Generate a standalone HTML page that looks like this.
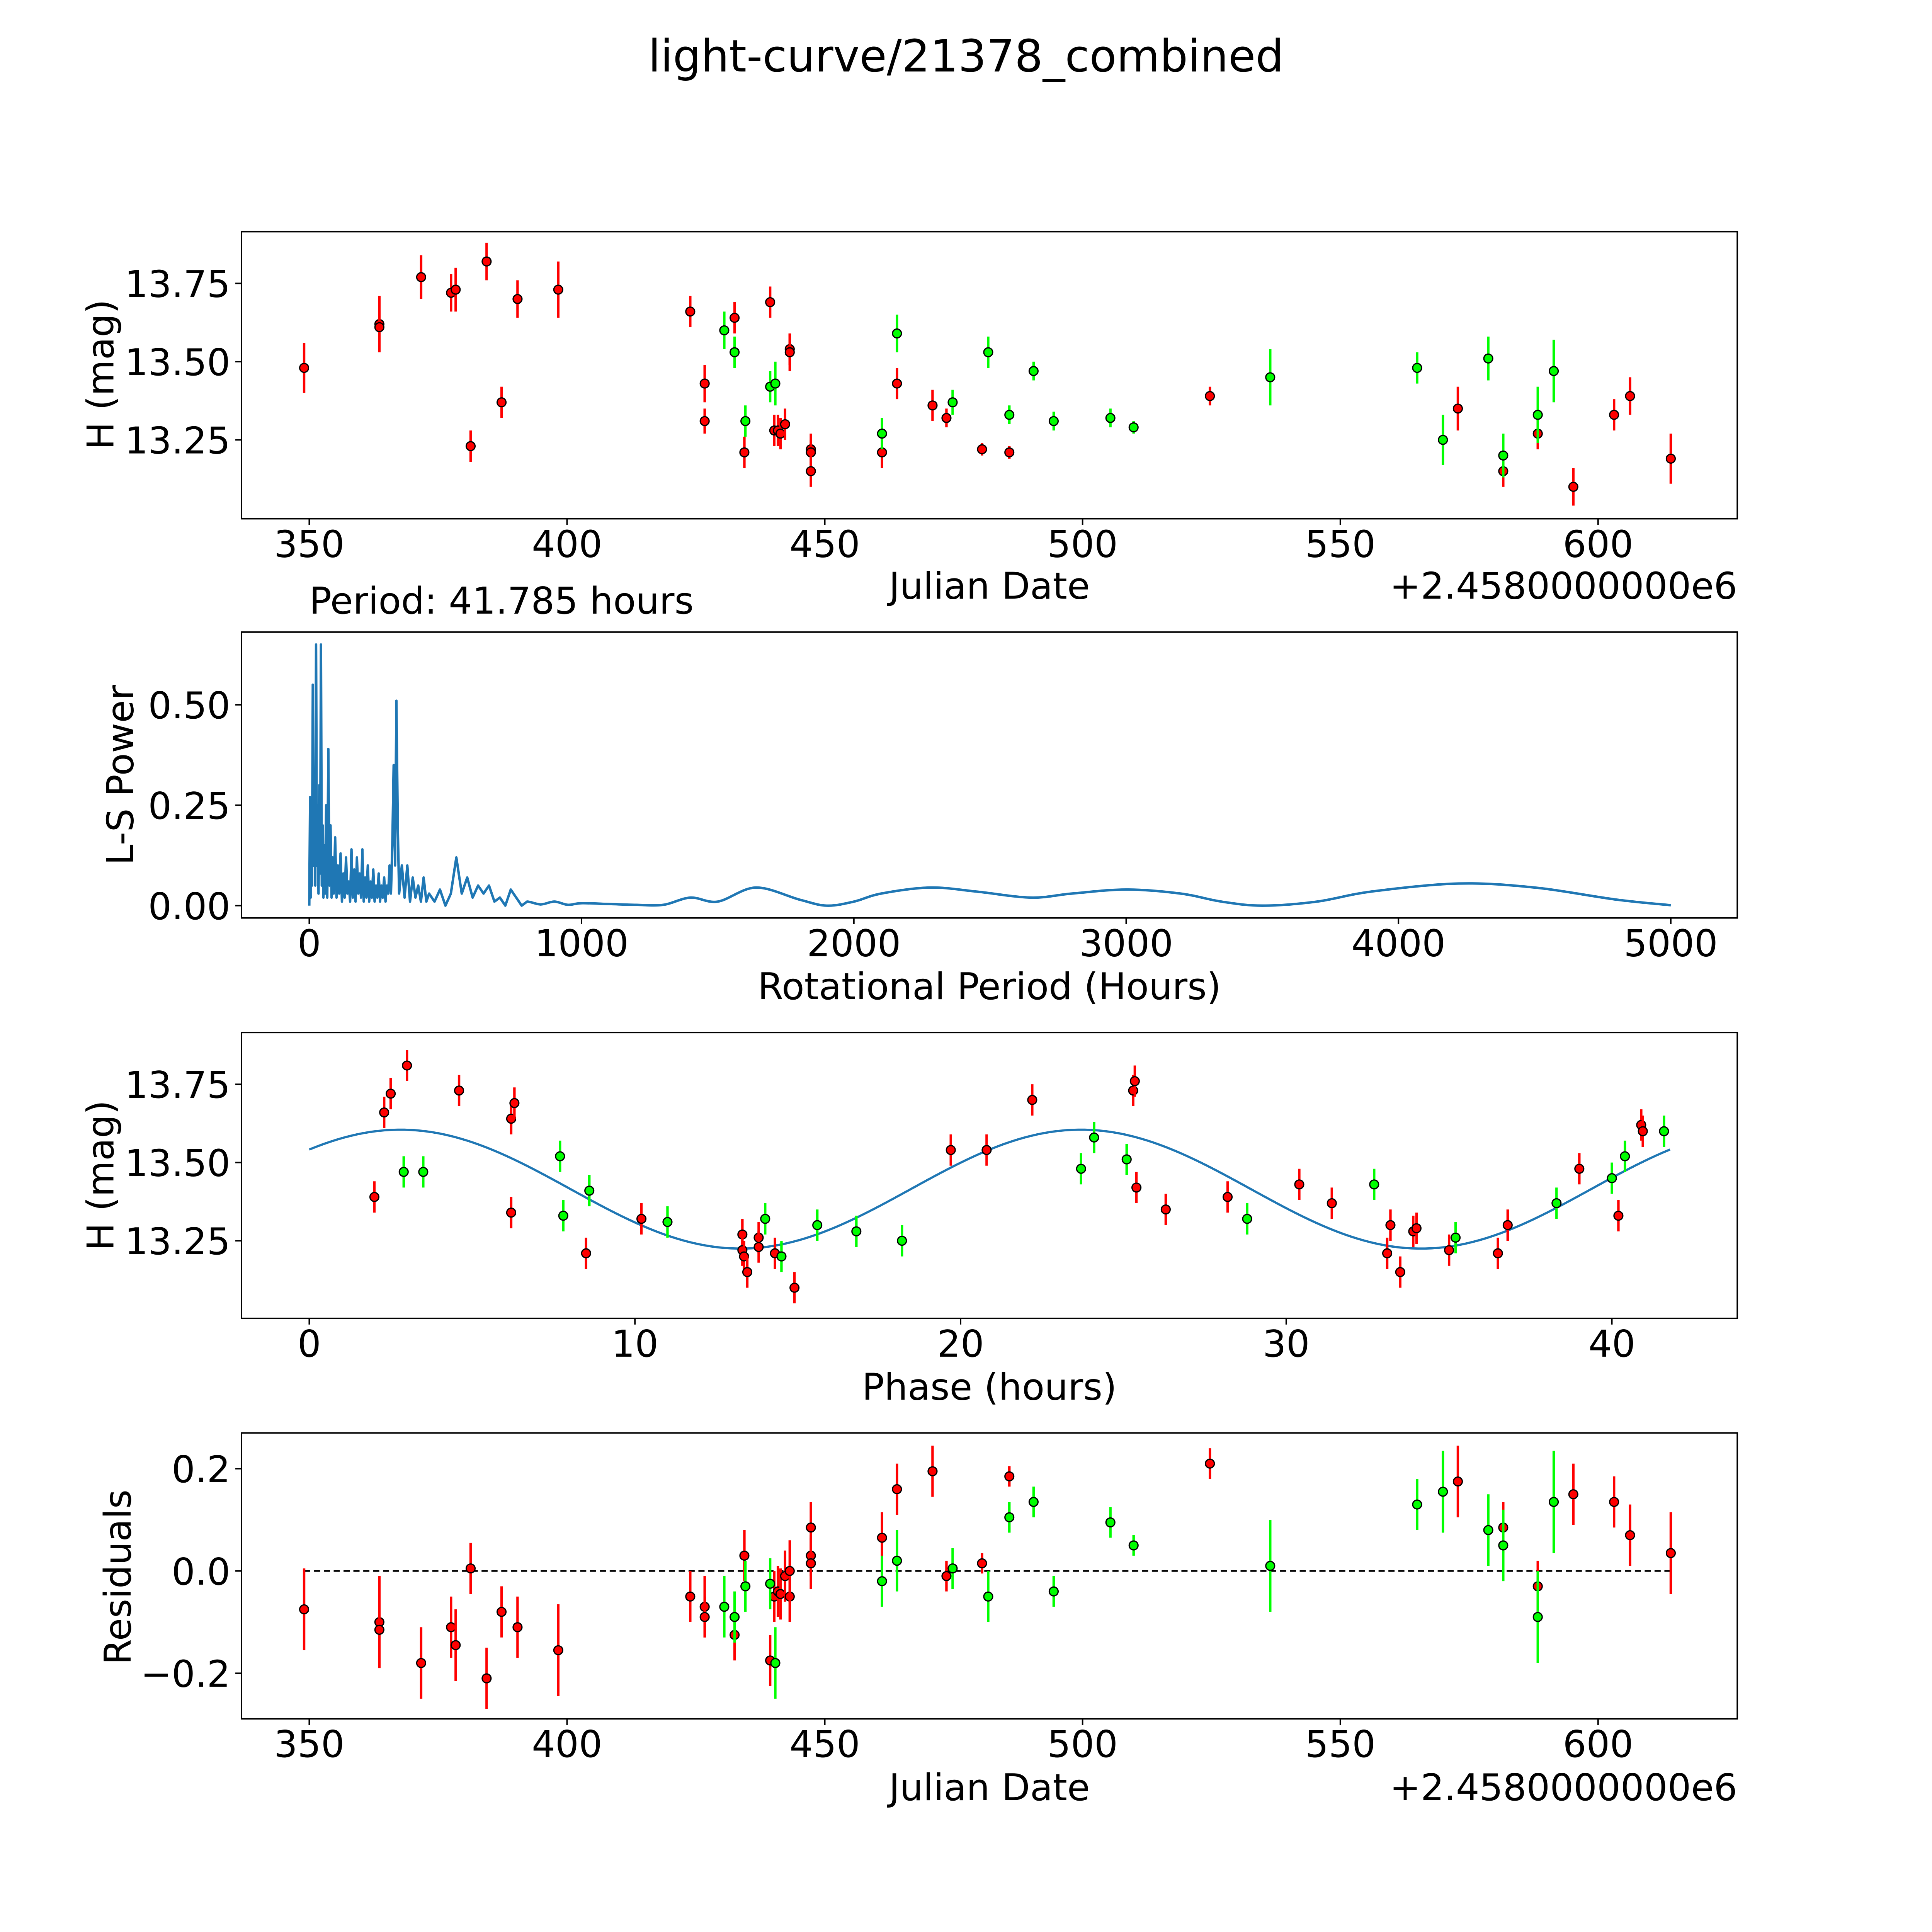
<!DOCTYPE html>
<html><head><meta charset="utf-8"><style>
html,body{margin:0;padding:0;background:#fff;overflow:hidden;width:100%;height:100%}
svg{display:block;width:100vw;height:100vh}
text{font-family:"DejaVu Sans","Liberation Sans",sans-serif;fill:#000}
</style></head><body>
<svg id="fig" viewBox="0 0 1568 1568" preserveAspectRatio="none" xmlns="http://www.w3.org/2000/svg">
<rect width="1568" height="1568" fill="#fff"/>
<text x="784" y="58" font-size="36" text-anchor="middle">light-curve/21378_combined</text>
<g id="g1"></g>
<g id="g2"></g>
<g id="g3"></g>
<g id="g4"></g>
</svg>
<script>
// ---- data ----
const redDates=[349,363.6,363.6,371.7,377.5,378.4,381.3,384.4,387.3,390.4,398.3,423.9,426.7,426.7,432.5,434.4,439.4,440.2,440.9,441.4,442.3,443.2,443.2,447.3,447.3,447.3,461.1,464,470.9,473.6,480.5,485.8,524.7,572.8,581.6,588.3,595.2,603.1,606.2,614.1];
const redMags=[13.48,13.62,13.61,13.77,13.72,13.73,13.23,13.82,13.37,13.70,13.73,13.66,13.43,13.31,13.64,13.21,13.69,13.28,13.28,13.27,13.30,13.54,13.53,13.22,13.21,13.15,13.21,13.43,13.36,13.32,13.22,13.21,13.39,13.35,13.15,13.27,13.10,13.33,13.39,13.19];
const redErrs=[0.08,0.09,0.05,0.07,0.06,0.07,0.05,0.06,0.05,0.06,0.09,0.05,0.06,0.04,0.05,0.05,0.05,0.05,0.05,0.05,0.05,0.05,0.06,0.05,0.04,0.05,0.05,0.05,0.05,0.03,0.02,0.02,0.03,0.07,0.05,0.05,0.06,0.05,0.06,0.08];
const redResid=[-0.075,-0.10,-0.115,-0.18,-0.11,-0.145,0.005,-0.21,-0.08,-0.11,-0.155,-0.05,-0.07,-0.09,-0.125,0.03,-0.175,-0.05,-0.04,-0.045,-0.01,-0.05,0.0,0.085,0.03,0.015,0.065,0.16,0.195,-0.01,0.015,0.185,0.21,0.175,0.085,-0.03,0.15,0.135,0.07,0.035];
const greenDates=[430.5,432.5,434.6,439.4,440.4,461.1,464,474.8,481.7,485.8,490.5,494.4,505.4,509.9,536.4,564.9,569.9,578.7,581.6,588.3,591.4];
const greenMags=[13.60,13.53,13.31,13.42,13.43,13.27,13.59,13.37,13.53,13.33,13.47,13.31,13.32,13.29,13.45,13.48,13.25,13.51,13.20,13.33,13.47];
const greenErrs=[0.06,0.05,0.05,0.05,0.07,0.05,0.06,0.04,0.05,0.03,0.03,0.03,0.03,0.02,0.09,0.05,0.08,0.07,0.07,0.09,0.10];
const greenResid=[-0.07,-0.09,-0.03,-0.025,-0.18,-0.02,0.02,0.005,-0.05,0.105,0.135,-0.04,0.095,0.05,0.01,0.13,0.155,0.08,0.05,-0.09,0.135];
const redPhase=[2.0,2.3,2.5,3.0,4.6,6.2,6.2,6.3,8.5,10.2,13.3,13.3,13.35,13.45,13.8,13.8,14.3,14.9,19.7,20.8,22.2,25.3,25.35,25.4,26.3,28.2,30.4,31.4,33.1,33.2,33.5,33.9,34.0,35.0,36.5,36.8,39.0,40.2,40.9,40.95];
const redPhaseMag=[13.39,13.66,13.72,13.81,13.73,13.34,13.64,13.69,13.21,13.32,13.27,13.22,13.20,13.15,13.26,13.23,13.21,13.10,13.54,13.54,13.70,13.73,13.76,13.42,13.35,13.39,13.43,13.37,13.21,13.30,13.15,13.28,13.29,13.22,13.21,13.30,13.48,13.33,13.62,13.60];
const greenPhase=[2.9,3.5,7.7,7.8,8.6,11.0,14.0,14.5,15.6,16.8,18.2,23.7,24.1,25.1,28.8,32.7,35.2,38.3,40.0,40.4,41.6];
const greenPhaseMag=[13.47,13.47,13.52,13.33,13.41,13.31,13.32,13.20,13.30,13.28,13.25,13.48,13.58,13.51,13.32,13.43,13.26,13.37,13.45,13.52,13.60];
const lsPeriods=[0,3,5,8,10,13,16,19,22,25,28,31,34,37,40,43,46,49,52,55,58,62,66,70,74,78,82,86,90,95,100,105,110,115,120,125,130,135,140,145,150,155,160,165,170,175,180,185,190,195,200,205,210,215,220,225,230,235,240,245,250,255,260,265,270,275,280,285,290,295,300,305,310,315,320,325,330,340,350,360,370,380,390,400,410,420,430,440,460,480,500,520,540,560,580,600,620,640,660,680,700,720,740,760,780,800,850,900,950,1000,1100,1200,1300,1400,1500,1640,1800,1900,2000,2100,2280,2450,2650,2800,3000,3200,3350,3500,3700,3900,4220,4500,4800,5000];
const lsPower=[0,0.27,0.02,0.2,0.05,0.55,0.1,0.3,0.05,0.65,0.1,0.25,0.03,0.3,0.08,0.65,0.05,0.2,0.02,0.15,0.03,0.25,0.02,0.39,0.05,0.2,0.02,0.12,0.03,0.17,0.02,0.1,0.03,0.13,0.01,0.08,0.02,0.12,0.03,0.06,0.01,0.14,0.02,0.09,0.01,0.12,0.03,0.08,0.02,0.14,0.01,0.07,0.02,0.1,0.01,0.06,0.02,0.09,0.01,0.05,0.02,0.08,0.01,0.05,0.02,0.07,0.01,0.05,0.03,0.1,0.03,0.15,0.35,0.1,0.51,0.2,0.03,0.1,0.02,0.1,0.01,0.07,0.02,0.05,0.01,0.07,0.01,0.03,0.01,0.04,0.0,0.03,0.12,0.03,0.07,0.02,0.05,0.03,0.05,0.01,0.02,0.0,0.04,0.02,0.0,0.01,0.003,0.01,0.002,0.006,0.004,0.002,0.002,0.02,0.01,0.045,0.015,0.0,0.01,0.03,0.045,0.035,0.02,0.03,0.04,0.03,0.01,0.0,0.01,0.035,0.055,0.045,0.015,0.001];
const jdTicks=[350,400,450,500,550,600];
const magTicks=[13.25,13.50,13.75];
const lsXTicks=[0,1000,2000,3000,4000,5000];
const lsYTicks=[0,0.25,0.5];
const phaseTicks=[0,10,20,30,40];
const residTicks=[-0.2,0,0.2];
const period=41.785, modelMean=13.415, modelAmp=0.19, modelPeak=2.8;

const NS="http://www.w3.org/2000/svg";
const FS=30;
function mk(parent,tag,attrs,txt){const e=document.createElementNS(NS,tag);for(const k in attrs)e.setAttribute(k,attrs[k]);if(txt!==undefined)e.textContent=txt;parent.appendChild(e);return e;}
const L=196,R=1410;
function frame(g,top,bot){const r=mk(g,'rect',{x:L,y:top,width:R-L,height:bot-top,fill:'none',stroke:'#000','stroke-width':1.2});

}
function xticks(g,ticks,sx,bot,fmt,name){ticks.forEach(t=>{const x=sx(t);mk(g,'line',{x1:x,x2:x,y1:bot,y2:bot+5,stroke:'#000','stroke-width':1.2});
const tx=mk(g,'text',{x:x,y:bot+31,'font-size':FS,'text-anchor':'middle'},fmt(t));

});}
function yticks(g,ticks,sy,fmt,name){ticks.forEach(t=>{const y=sy(t);mk(g,'line',{x1:L-5,x2:L,y1:y,y2:y,stroke:'#000','stroke-width':1.2});
const tx=mk(g,'text',{x:L-9,y:y+11,'font-size':FS,'text-anchor':'end'},fmt(t));

});}
function ylabel(g,txt,x,cy,name){const t=mk(g,'text',{x:x,y:cy,'font-size':FS,'text-anchor':'middle',transform:`rotate(-90 ${x} ${cy})`},txt);

}
function xlabel(g,txt,cx,y,name){const t=mk(g,'text',{x:cx,y:y,'font-size':FS,'text-anchor':'middle'},txt);

}
function pts(g,xs,ys,es,sx,sy,col,name){xs.forEach((v,i)=>{const x=sx(v),y=sy(ys[i]),e=es[i];
const ln=mk(g,'line',{x1:x,x2:x,y1:sy(ys[i]+e),y2:sy(ys[i]-e),stroke:col,'stroke-width':2});


const c=mk(g,'circle',{cx:x,cy:y,r:3.6,fill:col,stroke:'#000','stroke-width':1});

});}
const f2=t=>t.toFixed(2), f0=t=>String(t), f1=t=>t.toFixed(1).replace('-','\u2212');
const RED='#ff0000', GRN='#00ff00';
const sxJD=v=>251+(v-350)*4.184;

// Panel 1
{const g=document.getElementById('g1');const top=188,bot=421;const sy=v=>230-(v-13.75)*254;
frame(g,top,bot);xticks(g,jdTicks,sxJD,bot,f0,'x-tick-label');yticks(g,magTicks,sy,f2,'y-tick-label');
pts(g,redDates,redMags,redErrs,sxJD,sy,RED,'red-filter');pts(g,greenDates,greenMags,greenErrs,sxJD,sy,GRN,'green-filter');
xlabel(g,'Julian Date',803,486,'x-axis-title');ylabel(g,'H (mag)',92,304,'y-axis-title');
const o=mk(g,'text',{x:R,y:486,'font-size':FS,'text-anchor':'end'},'+2.4580000000e6');

}

// Panel 2
{const g=document.getElementById('g2');const top=513,bot=745;const sx=v=>251+v*0.221, sy=v=>735-v*326;
frame(g,top,bot);xticks(g,lsXTicks,sx,bot,f0,'x-tick-label');yticks(g,lsYTicks,sy,f2,'y-tick-label');
const P=lsPeriods.map((p,i)=>[sx(p),sy(lsPower[i])]);
let d='M'+P[0][0].toFixed(2)+' '+P[0][1].toFixed(2);
for(let i=1;i<P.length;i++){
  if(lsPeriods[i]<=800){d+=' L'+P[i][0].toFixed(2)+' '+P[i][1].toFixed(2);}
  else{const p0=P[i-2]||P[i-1],p1=P[i-1],p2=P[i],p3=P[i+1]||P[i];
    const c1=[p1[0]+(p2[0]-p0[0])/6,p1[1]+(p2[1]-p0[1])/6],c2=[p2[0]-(p3[0]-p1[0])/6,p2[1]-(p3[1]-p1[1])/6];
    d+=' C'+c1[0].toFixed(2)+' '+Math.min(c1[1],735.5).toFixed(2)+' '+c2[0].toFixed(2)+' '+Math.min(c2[1],735.5).toFixed(2)+' '+p2[0].toFixed(2)+' '+p2[1].toFixed(2);}
}
const p=mk(g,'path',{d:d,fill:'none',stroke:'#1f77b4','stroke-width':2,'stroke-linejoin':'round'});


xlabel(g,'Rotational Period (Hours)',803,811,'x-axis-title');ylabel(g,'L-S Power',108,629,'y-axis-title');
const t=mk(g,'text',{x:251,y:498,'font-size':FS},'Period: 41.785 hours');

}

// Panel 3
{const g=document.getElementById('g3');const top=838,bot=1070;const sx=v=>251+v*26.43, sy=v=>880-(v-13.75)*254;
frame(g,top,bot);xticks(g,phaseTicks,sx,bot,f0,'x-tick-label');yticks(g,magTicks,sy,f2,'y-tick-label');
let d='';for(let i=0;i<=200;i++){const ph=period*i/200;const m=modelMean+modelAmp*Math.cos(2*Math.PI*(ph-modelPeak)/(period/2));d+=(i?'L':'M')+sx(ph).toFixed(2)+' '+sy(m).toFixed(2)+' ';}
const p=mk(g,'path',{d:d,fill:'none',stroke:'#1f77b4','stroke-width':1.8});


const pe=redPhase.map(()=>0.05), ge=greenPhase.map(()=>0.05);
pts(g,redPhase,redPhaseMag,pe,sx,sy,RED,'red-phase');pts(g,greenPhase,greenPhaseMag,ge,sx,sy,GRN,'green-phase');
xlabel(g,'Phase (hours)',803,1136,'x-axis-title');ylabel(g,'H (mag)',92,954,'y-axis-title');}

// Panel 4
{const g=document.getElementById('g4');const top=1163,bot=1395;const sy=v=>1275-v*415;
frame(g,top,bot);xticks(g,jdTicks,sxJD,bot,f0,'x-tick-label');yticks(g,residTicks,sy,f1,'y-tick-label');
const z=mk(g,'line',{x1:sxJD(349),x2:sxJD(614.1),y1:sy(0),y2:sy(0),stroke:'#000','stroke-width':1.3,'stroke-dasharray':'5 3'});


pts(g,redDates,redResid,redErrs,sxJD,sy,RED,'red-residual');pts(g,greenDates,greenResid,greenErrs,sxJD,sy,GRN,'green-residual');
xlabel(g,'Julian Date',803,1461,'x-axis-title');ylabel(g,'Residuals',106,1280,'y-axis-title');
const o=mk(g,'text',{x:R,y:1461,'font-size':FS,'text-anchor':'end'},'+2.4580000000e6');

}
</script>
</body></html>
